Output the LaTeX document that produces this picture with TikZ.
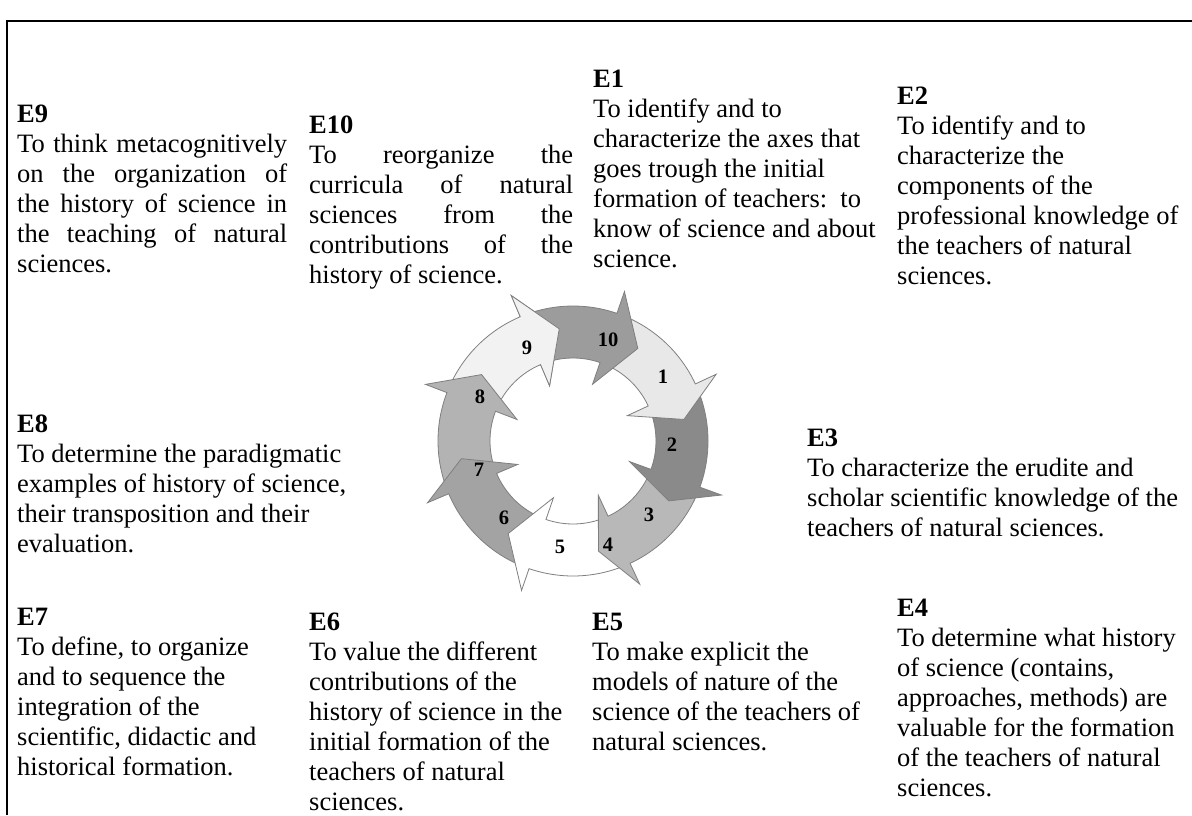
\documentclass[tikz,border=0pt]{standalone}
\usepackage{fontspec}
\setmainfont{Liberation Serif}
\definecolor{ring10}{HTML}{9C9C9C}
\definecolor{ring1}{HTML}{E8E8E8}
\definecolor{ring2}{HTML}{8A8A8A}
\definecolor{ring3}{HTML}{B8B8B8}
\definecolor{ring5}{HTML}{FFFFFF}
\definecolor{ring6}{HTML}{A3A3A3}
\definecolor{ring8}{HTML}{B3B3B3}
\definecolor{ring9}{HTML}{F2F2F2}
\definecolor{ringedge}{HTML}{7F7F7F}
\newcommand\ringarrow[4]{%
  \filldraw[ringarrowstyle, fill=#1] (#2:135) arc[start angle=#2, end angle=#3, radius=135]
    -- (#3:158) -- (#4:113) -- (#3:60) -- (#3:83)
    arc[start angle=#3, end angle=#2, radius=83] -- cycle;}
\tikzset{
  ringarrowstyle/.style={draw=ringedge, line width=0.8pt, line join=miter},
  txtblock/.style={anchor=base west, inner sep=0pt, font=\fontsize{26.5}{30}\selectfont},
  numlabel/.style={inner sep=0pt, font=\fontsize{20.5}{22}\selectfont\bfseries},
  frameline/.style={line width=2.2pt, black}
}
\begin{document}
\begin{tikzpicture}[x=1pt, y=1pt]
\useasboundingbox (0,0) rectangle (1192,815);
\fill[white] (0,0) rectangle (1192,815);
\draw[frameline] (7,0) -- (7,794) -- (1192,794);

% ring of arrows
\begin{scope}[shift={(573,374)}]
  \ringarrow{ring9}{-203}{-247}{-263}
  \ringarrow{ring8}{-159}{-201}{-216}
  \ringarrow{ring6}{-111}{-157}{-171}
  \ringarrow{ring5}{-67}{-109}{-125}
  \ringarrow{ring3}{-22}{-65}{-77}
  \ringarrow{ring2}{23}{-20}{-32}
  \ringarrow{ring1}{69}{25}{11}
  \ringarrow{ring10}{111}{71}{55}
  \begin{scope}
    \clip (0,0) -- (-264:230) arc[start angle=-264, end angle=-246, radius=230] -- cycle;
    \ringarrow{ring9}{-203}{-247}{-263}
  \end{scope}
\end{scope}

\node[numlabel] (l10) at (608,475) {10};
\node[numlabel] (l9) at (527,467) {9};
\node[numlabel] (l1) at (663,438) {1};
\node[numlabel] (l2) at (672,370) {2};
\node[numlabel] (l3) at (649,300) {3};
\node[numlabel] (l4) at (608,270) {4};
\node[numlabel] (l5) at (560,268) {5};
\node[numlabel] (l6) at (504,297) {6};
\node[numlabel] (l7) at (479,345) {7};
\node[numlabel] (l8) at (480,418) {8};

% text blocks
\node[txtblock] (e9) at (17,692.5) {\begin{tabular}[t]{@{}l@{}}
\textbf{E9}\\
\makebox[270pt][s]{To think metacognitively}\\
\makebox[270pt][s]{on the organization of}\\
\makebox[270pt][s]{the history of science in}\\
\makebox[270pt][s]{the teaching of natural}\\
sciences.
\end{tabular}};

\node[txtblock] (e10) at (309,681.5) {\begin{tabular}[t]{@{}l@{}}
\textbf{E10}\\
\makebox[264pt][s]{To reorganize the}\\
\makebox[264pt][s]{curricula of natural}\\
\makebox[264pt][s]{sciences from the}\\
\makebox[264pt][s]{contributions of the}\\
history of science.
\end{tabular}};

\node[txtblock] (e1) at (593,727.5) {\begin{tabular}[t]{@{}l@{}}
\textbf{E1}\\
To identify and to\\
characterize the axes that\\
goes trough the initial\\
formation of teachers:\ \ to\\
know of science and about\\
science.
\end{tabular}};

\node[txtblock] (e2) at (897,710.5) {\begin{tabular}[t]{@{}l@{}}
\textbf{E2}\\
To identify and to\\
characterize the\\
components of the\\
professional knowledge of\\
the teachers of natural\\
sciences.
\end{tabular}};

\node[txtblock] (e8) at (17,382.5) {\begin{tabular}[t]{@{}l@{}}
\textbf{E8}\\
To determine the paradigmatic\\
examples of history of science,\\
their transposition and their\\
evaluation.
\end{tabular}};

\node[txtblock] (e3) at (807,368.5) {\begin{tabular}[t]{@{}l@{}}
\textbf{E3}\\
To characterize the erudite and\\
scholar scientific knowledge of the\\
teachers of natural sciences.
\end{tabular}};

\node[txtblock] (e7) at (17,190) {\begin{tabular}[t]{@{}l@{}}
\textbf{E7}\\
To define, to organize\\
and to sequence the\\
integration of the\\
scientific, didactic and\\
historical formation.
\end{tabular}};

\node[txtblock] (e6) at (309,185) {\begin{tabular}[t]{@{}l@{}}
\textbf{E6}\\
To value the different\\
contributions of the\\
history of science in the\\
initial formation of the\\
teachers of natural\\
sciences.
\end{tabular}};

\node[txtblock] (e5) at (592,185) {\begin{tabular}[t]{@{}l@{}}
\textbf{E5}\\
To make explicit the\\
models of nature of the\\
science of the teachers of\\
natural sciences.
\end{tabular}};

\node[txtblock] (e4) at (897,199) {\begin{tabular}[t]{@{}l@{}}
\textbf{E4}\\
To determine what history\\
of science (contains,\\
approaches, methods) are\\
valuable for the formation\\
of the teachers of natural\\
sciences.
\end{tabular}};
\end{tikzpicture}
\end{document}
